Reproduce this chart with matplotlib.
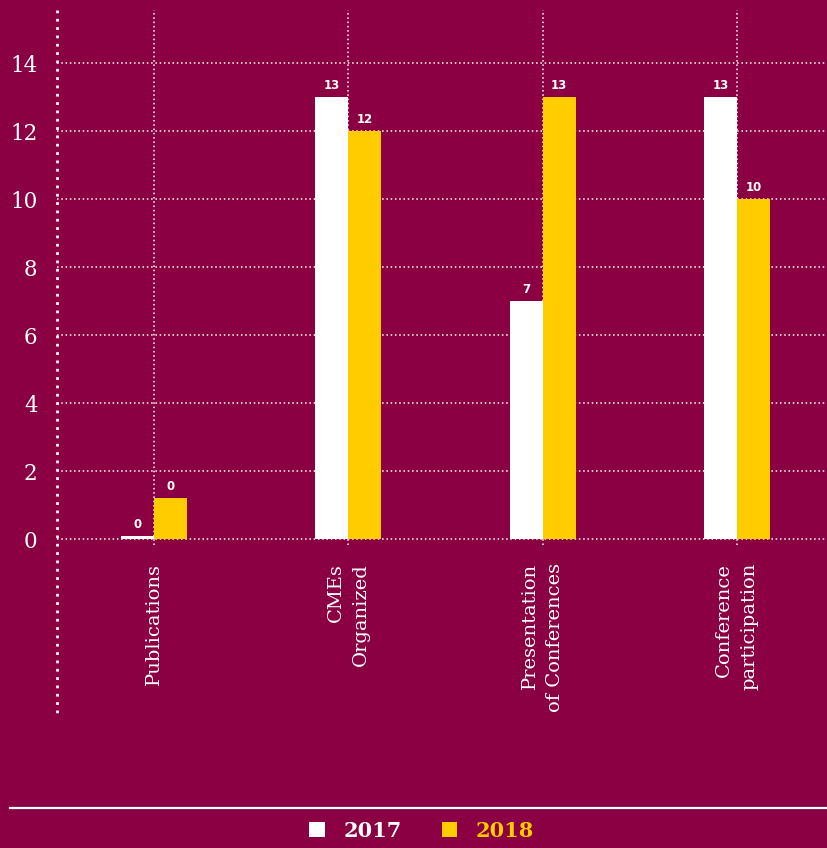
import matplotlib
matplotlib.use('Agg')
import numpy as np
import matplotlib.pyplot as plt
from matplotlib.patches import Patch
from matplotlib.lines import Line2D

# data
categories = ['Publications', 'CMEs\nOrganized', 'Presentation\nof Conferences', 'Conference\nparticipation']
heights_2017 = [0.1, 13, 7, 13]
heights_2018 = [1.2, 12, 13, 10]
labels_2017 = ['0', '13', '7', '13']
labels_2018 = ['0', '12', '13', '10']
yticks = [0, 2, 4, 6, 8, 10, 12, 14]
years = ['2017', '2018']

bg = '#8a0042'
white = '#ffffff'
yellow = '#ffcc00'
serif = ['DejaVu Serif']

fig = plt.figure(figsize=(8.27, 8.48), dpi=100, facecolor=bg)
ax = fig.add_axes([57/827, 303/848, 1 - 57/827, 535/848])
ax.set_facecolor(bg)

x = np.arange(len(categories))
w = 0.17
b1 = ax.bar(x - w/2, heights_2017, w, color=white, zorder=3)
b2 = ax.bar(x + w/2, heights_2018, w, color=yellow, zorder=3)

# value labels
for bars, labs in [(b1, labels_2017), (b2, labels_2018)]:
    for r, lab in zip(bars, labs):
        ax.annotate(lab, (r.get_x() + r.get_width()/2, r.get_height()),
                    xytext=(0, 3.5), textcoords='offset points',
                    ha='center', va='bottom', color=white,
                    fontsize=8.5, fontweight='bold', family='DejaVu Sans')

ax.set_xlim(-0.5, 3.464)
ax.set_ylim(-0.176, 15.56)
ax.set_yticks(yticks)
ax.set_xticks(x)
ax.set_xticklabels(categories, rotation=90, va='top', ha='center',
                   multialignment='right', linespacing=1.5)
ax.tick_params(length=0, colors=white)
ax.tick_params(axis='y', pad=14, labelsize=15.5)
ax.tick_params(axis='x', pad=13, labelsize=14)
for t in ax.get_xticklabels() + ax.get_yticklabels():
    t.set_family(serif)

# dotted grid
ax.grid(True, color=white, lw=1.1, linestyle=(0, (1, 1.8)), zorder=1)
for s in ax.spines.values():
    s.set_visible(False)

# left dotted line running past the axes bottom
ax.plot([0, 0], [1.0, -0.318], transform=ax.transAxes, clip_on=False,
        color=white, lw=2.0, linestyle=(0, (1, 2.0)), zorder=4)

# bottom rule
fig.add_artist(Line2D([10/827, 1.0], [40/848, 40/848], color=white, lw=1.6))

handles = [Patch(facecolor=white, edgecolor='none'), Patch(facecolor=yellow, edgecolor='none')]
leg = fig.legend(handles, years, loc='center', bbox_to_anchor=(0.51, 17/848),
                 ncol=2, frameon=False, handlelength=0.75, handleheight=0.75,
                 handletextpad=0.9, columnspacing=1.9,
                 prop={'family': 'DejaVu Serif', 'weight': 'bold', 'size': 15})
for t, c in zip(leg.get_texts(), [white, yellow]):
    t.set_color(c)

fig.savefig('out.png', dpi=100, facecolor=bg)
